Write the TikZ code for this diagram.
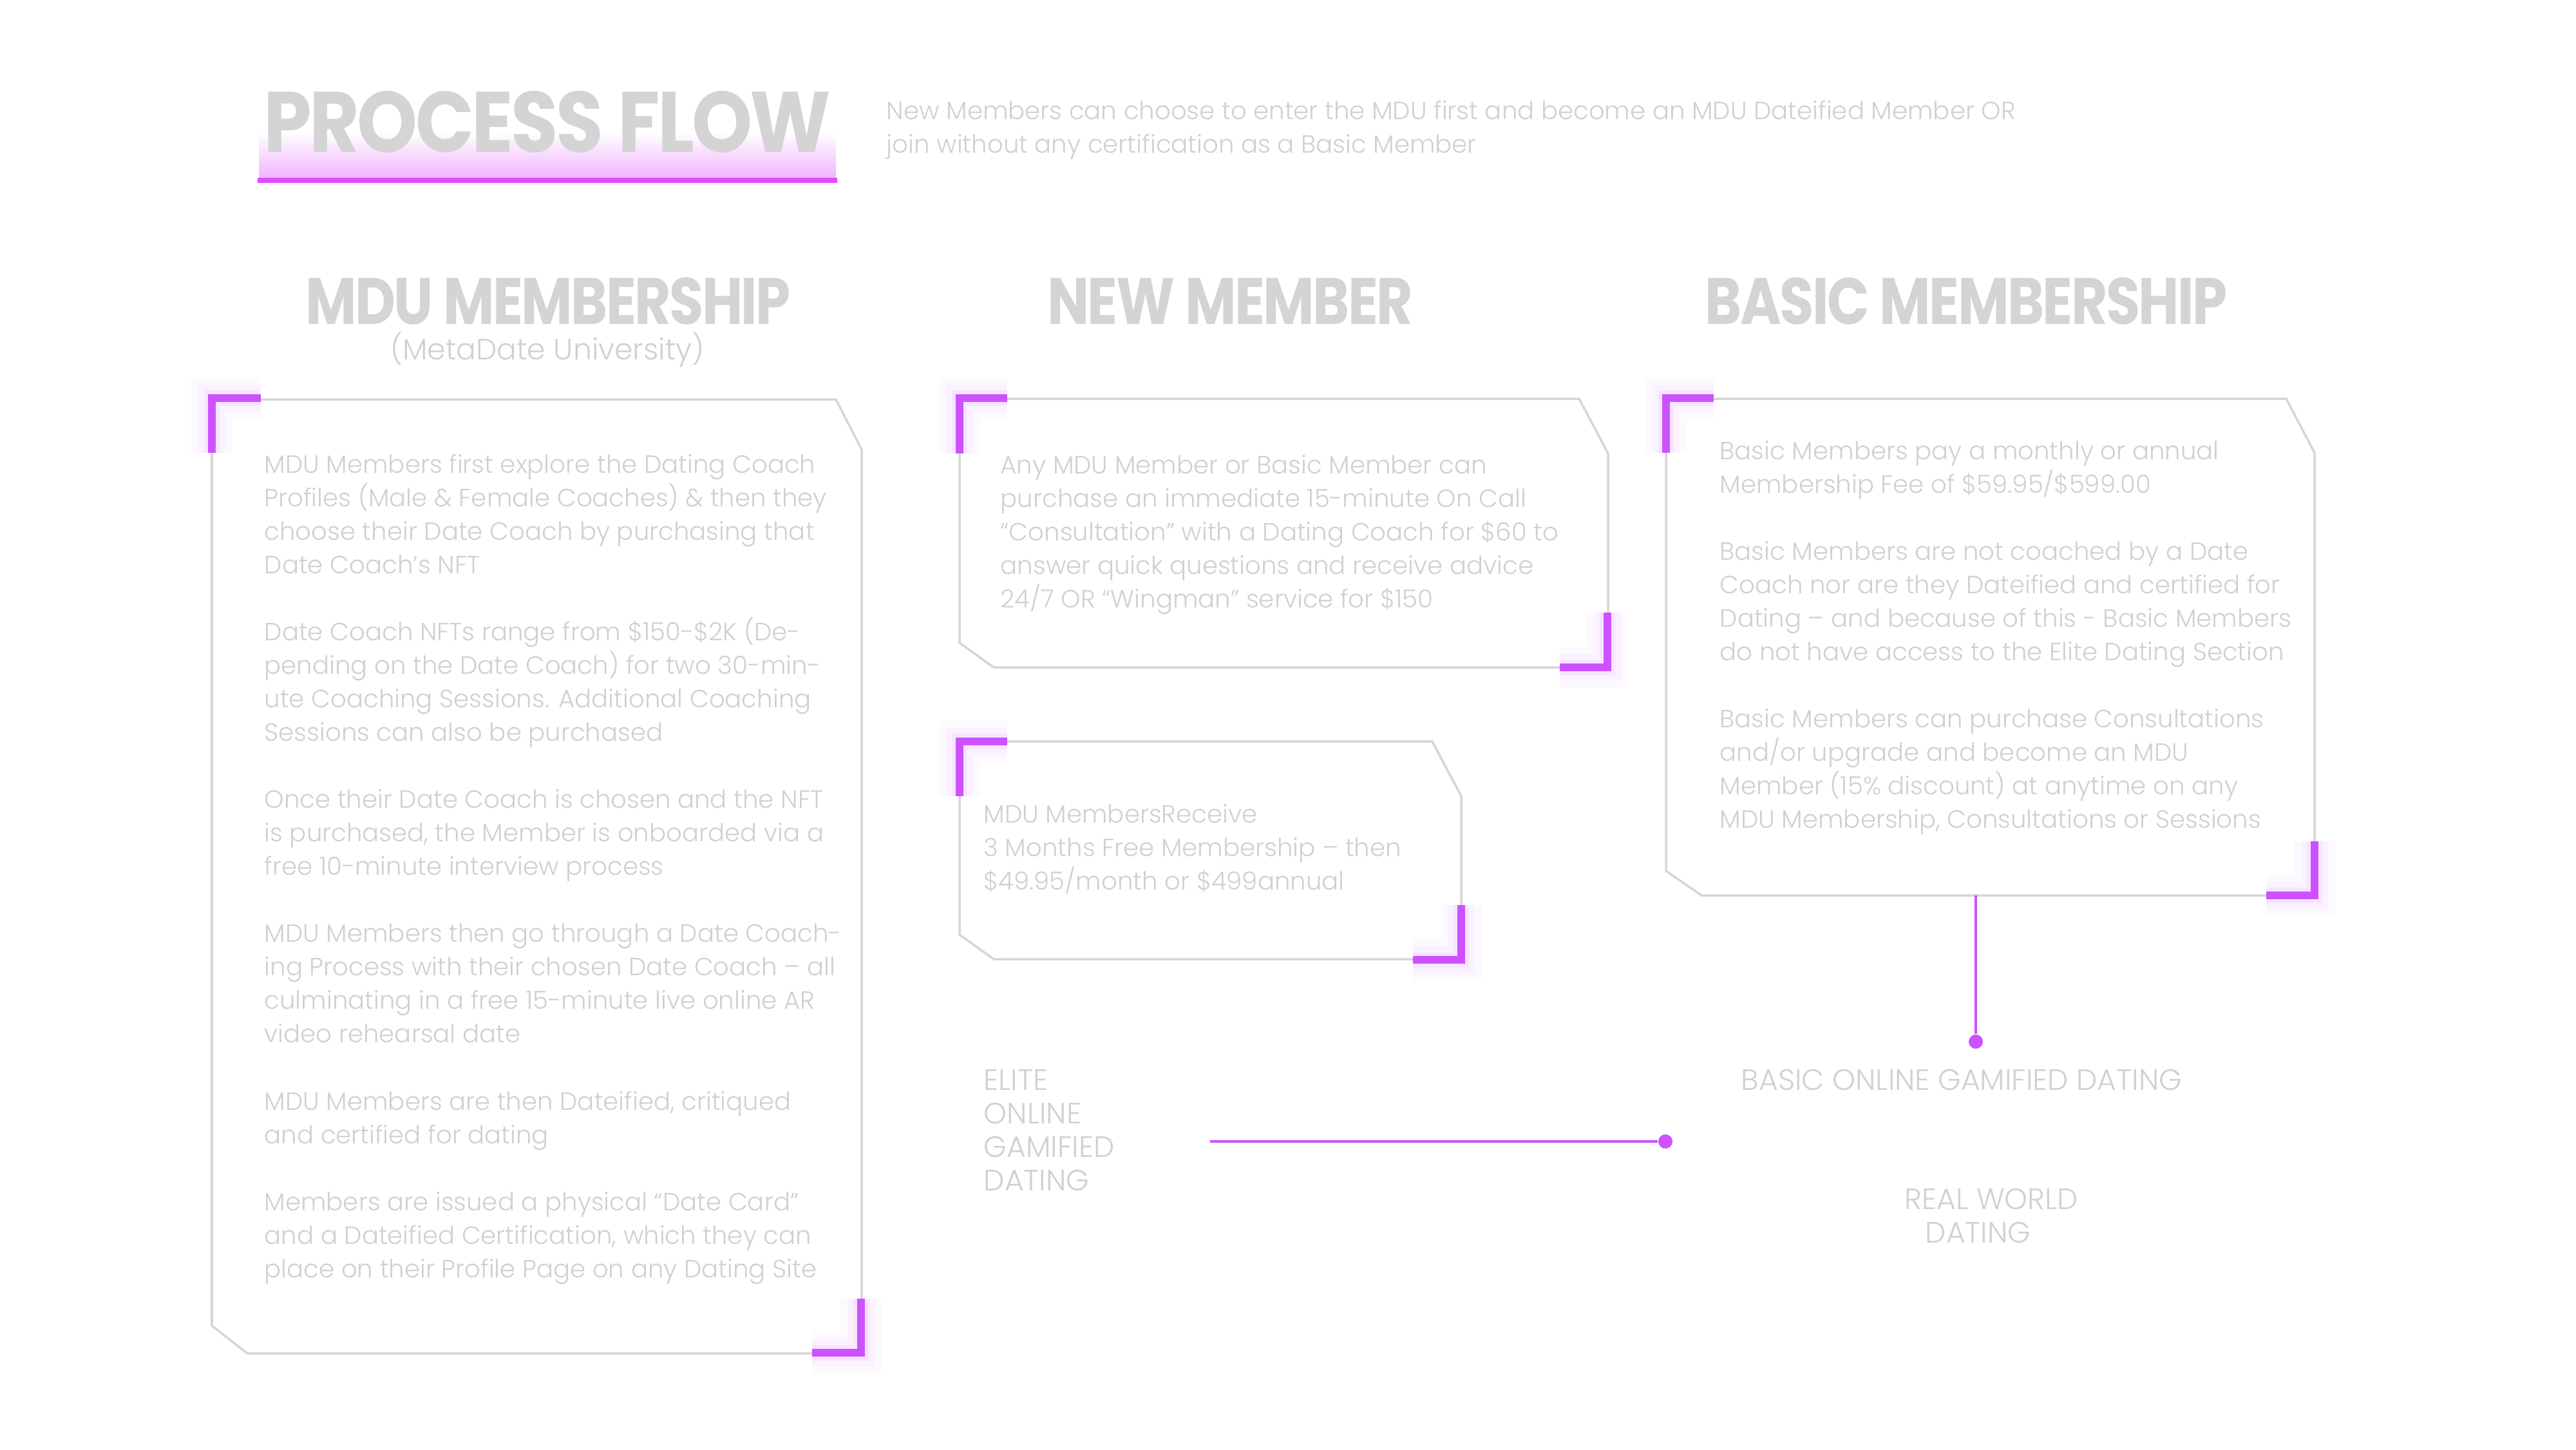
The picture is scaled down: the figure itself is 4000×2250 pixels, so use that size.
\documentclass[tikz,border=0pt]{standalone}
\usepackage{fontspec}
\setmainfont{Poppins}[UprightFont={* Light},BoldFont={* Bold}]
\newfontfamily\headfont{Poppins}[UprightFont={* Bold},LetterSpace=-3]
\usepackage{graphicx}
\definecolor{txtgrey}{HTML}{D0D0D0}
\definecolor{headgrey}{HTML}{D4D4D4}
\definecolor{edgegrey}{HTML}{D6D6D6}
\definecolor{mag}{HTML}{CC52FF}
\definecolor{barmag}{HTML}{E24BFF}
\definecolor{lilac}{HTML}{F2B5FF}
\tikzset{
  box/.style={draw=edgegrey, line width=1pt, line join=miter},
  glow/.style={preaction={draw=mag, line width=18pt, draw opacity=0.03},
               preaction={draw=mag, line width=12pt, draw opacity=0.05},
               preaction={draw=mag, line width=7pt, draw opacity=0.08}},
  corner/.style={glow, draw=mag, line width=3.4pt, line join=miter},
  body/.style={anchor=north west, align=left, inner sep=0pt, text=txtgrey,
               font=\fontsize{11}{14.8}\selectfont},
  caps/.style={body, font=\fontsize{13}{14.8}\selectfont},
  head/.style={anchor=base, inner sep=0pt, text=headgrey,
               font=\headfont\fontsize{29}{29}\selectfont},
  dot/.style={circle, fill=mag, inner sep=0pt, minimum size=0.22cm},
  link/.style={draw=mag, line width=1pt}
}
\begin{document}
\begin{tikzpicture}[x=0.01cm, y=-0.01cm]
  \useasboundingbox (0,0) rectangle (4000,2250);
  \shade[top color=white, bottom color=lilac] (402,205) rectangle (1298,276);
  \fill[barmag] (400,276) rectangle (1300,284);
  \node[head, font=\headfont\fontsize{38}{38}\selectfont] (title) at (850,236)
    {\scalebox{0.895}[1]{PROCESS FLOW}};
  \node[body] (intro) at (1376,148)
    {\strut New Members can choose to enter the MDU first and become an MDU Dateified Member OR\\
     join without any certification as a Basic Member};

  \node[head] (mduhead)   at (851,503)  {\scalebox{0.85}[1]{MDU MEMBERSHIP}};
  \node[body, anchor=base, font=\fontsize{13}{14}\selectfont] (mdusub) at (850,558)
    {(MetaDate University)};
  \node[head] (newhead)   at (1910,503) {\scalebox{0.85}[1]{NEW MEMBER}};
  \node[head] (basichead) at (3053,503) {\scalebox{0.85}[1]{BASIC MEMBERSHIP}};

  \draw[box] (329,620) -- (1298,620) -- (1338,698) -- (1338,2101) -- (384,2101) -- (329,2058) -- cycle;
  \draw[box] (1490,619) -- (2452,619) -- (2497,704) -- (2497,1036) -- (1543,1036) -- (1490,998) -- cycle;
  \draw[box] (1490,1151) -- (2224,1151) -- (2269,1236) -- (2269,1489) -- (1543,1489) -- (1490,1451) -- cycle;
  \draw[box] (2587,619) -- (3550,619) -- (3594,703) -- (3594,1390) -- (2642,1390) -- (2587,1352) -- cycle;

  \foreach \xa/\ya/\xb/\yb/\xc/\yc in {
      329/703/329/618/405/618, 1337/2016/1337/2100/1261/2100,
      1490/704/1490/618/1564/618, 2496/951/2496/1036/2422/1036,
      1490/1236/1490/1151/1564/1151, 2269/1405/2269/1490/2194/1490,
      2587/703/2587/618/2661/618, 3594/1306/3594/1390/3519/1390}
    \draw[corner] (\xa,\ya) -- (\xb,\yb) -- (\xc,\yc);

  \node[body] (mdutext) at (410,697)
    {\strut MDU Members first explore the Dating Coach\\
     Profiles (Male \& Female Coaches) \& then they\\
     choose their Date Coach by purchasing that\\
     Date Coach’s NFT\\[14.8pt]
     Date Coach NFTs range from \$150-\$2K (De-\\
     pending on the Date Coach) for two 30-min-\\
     ute Coaching Sessions. Additional Coaching\\
     Sessions can also be purchased\\[14.8pt]
     Once their Date Coach is chosen and the NFT\\
     is purchased, the Member is onboarded via a\\
     free 10-minute interview process\\[14.8pt]
     MDU Members then go through a Date Coach-\\
     ing Process with their chosen Date Coach – all\\
     culminating in a free 15-minute live online AR\\
     video rehearsal date\\[14.8pt]
     MDU Members are then Dateified, critiqued\\
     and certified for dating\\[14.8pt]
     Members are issued a physical “Date Card”\\
     and a Dateified Certification, which they can\\
     place on their Profile Page on any Dating Site};

  \node[body] (calltext) at (1553,698)
    {\strut Any MDU Member or Basic Member can\\
     purchase an immediate 15-minute On Call\\
     “Consultation” with a Dating Coach for \$60 to\\
     answer quick questions and receive advice\\
     24/7 OR “Wingman” service for \$150};

  \node[body] (freetext) at (1527,1240)
    {\strut MDU MembersReceive\\
     3 Months Free Membership – then\\
     \$49.95/month or \$499annual};

  \node[body] (basictext) at (2670,676)
    {\strut Basic Members pay a monthly or annual\\
     Membership Fee of \$59.95/\$599.00\\[14.8pt]
     Basic Members are not coached by a Date\\
     Coach nor are they Dateified and certified for\\
     Dating – and because of this - Basic Members\\
     do not have access to the Elite Dating Section\\[14.8pt]
     Basic Members can purchase Consultations\\
     and/or upgrade and become an MDU\\
     Member (15\% discount) at anytime on any\\
     MDU Membership, Consultations or Sessions};

  \node[caps] (elite) at (1527,1655) {\strut ELITE\\ONLINE\\GAMIFIED\\DATING};
  \node[caps, anchor=base] (basicgame) at (3046,1692) {BASIC ONLINE GAMIFIED DATING};
  \node[caps] (real) at (2957,1840) {\strut REAL WORLD\\\hspace{0.32cm}DATING};

  \coordinate (basicout) at (3068,1390);
  \node[dot] (basicdot) at (3068,1617) {};
  \draw[link] (basicout) -- (basicdot);
  \coordinate (eliteout) at (1879,1772);
  \node[dot] (elitedot) at (2586,1772) {};
  \draw[link] (eliteout) -- (elitedot);
\end{tikzpicture}
\end{document}
